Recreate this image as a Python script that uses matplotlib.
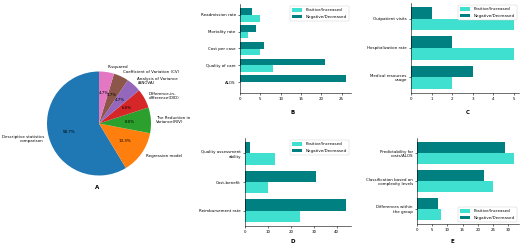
import matplotlib
matplotlib.use("Agg")
import matplotlib.pyplot as plt
import numpy as np

# pie data (panel A)
pie_labels = ["Descriptive statistics\ncomparison", "Regression model",
              "The Reduction in\nVariance(RIV)", "Difference-in-\ndifference(DID)",
              "Analysis of Variance\n(ANOVA)", "Coefficient of Variation (CV)",
              "R-squared"]
pie_counts = [88, 20, 12, 9, 7, 7, 7]

# panel B
b_cats = ["Readmission rate", "Mortality rate", "Cost per case", "Quality of care", "ALOS"]
b_pos = [5, 2, 5, 8, 0]
b_neg = [3, 4, 6, 21, 26]

# panel C
c_cats = ["Outpatient visits", "Hospitalization rate", "Medical resources\nusage"]
c_pos = [5, 5, 2]
c_neg = [1, 2, 3]

# panel D
d_cats = ["Quality assessment\nability", "Cost-benefit", "Reimbursement rate"]
d_pos = [13, 10, 24]
d_neg = [2, 31, 44]

# panel E
e_cats = ["Predictability for\ncosts/ALOS", "Classification based on\ncomplexity levels",
          "Differences within\nthe group"]
e_pos = [32, 25, 8]
e_neg = [29, 22, 7]

POS_COLOR = "#40E0D0"
NEG_COLOR = "#008080"
FS = 2.9

fig = plt.figure(figsize=(5.2, 2.45), dpi=100)


def px(left, top, right, bottom):
    return [left / 520, (245 - bottom) / 245, (right - left) / 520, (bottom - top) / 245]


# pie
ax_a = fig.add_axes(px(34, 58.5, 164, 188.5))
ax_a.pie(pie_counts, labels=pie_labels, autopct="%1.1f%%", startangle=90,
         textprops={"fontsize": FS})
ax_a.set_aspect("equal")


def bar_panel(rect, cats, pos, neg, legend_loc):
    ax = fig.add_axes(rect)
    n = len(cats)
    y = np.arange(n)[::-1]
    ax.barh(y - 0.2, pos, height=0.4, color=POS_COLOR, label="Positive/Increased")
    ax.barh(y + 0.2, neg, height=0.4, color=NEG_COLOR, label="Negative/Decreased")
    ax.set_yticks(y)
    ax.set_yticklabels(cats)
    ax.tick_params(labelsize=FS, length=1.5, width=0.4, pad=1.5)
    for s in ["top", "right"]:
        ax.spines[s].set_visible(False)
    for s in ["left", "bottom"]:
        ax.spines[s].set_linewidth(0.4)
    leg = ax.legend(loc=legend_loc, fontsize=FS, handlelength=2.5, handleheight=0.9,
                    borderpad=0.6, framealpha=1)
    leg.get_frame().set_linewidth(0.3)
    return ax


bar_panel(px(240, 4, 351, 93), b_cats, b_pos, b_neg, "upper right")
bar_panel(px(411, 3, 519, 93), c_cats, c_pos, c_neg, "upper right")
bar_panel(px(245, 138, 351, 226), d_cats, d_pos, d_neg, "upper right")
bar_panel(px(417, 138, 519, 224), e_cats, e_pos, e_neg, "lower right")

# panel letters
for letter, x, yy in [("A", 97, 187), ("B", 293, 113), ("C", 468, 113),
                      ("D", 293, 241), ("E", 452, 241)]:
    fig.text(x / 520, 1 - yy / 245, letter, fontsize=4, fontweight="bold",
             ha="center", va="center")

fig.savefig("out.png", dpi=100)
